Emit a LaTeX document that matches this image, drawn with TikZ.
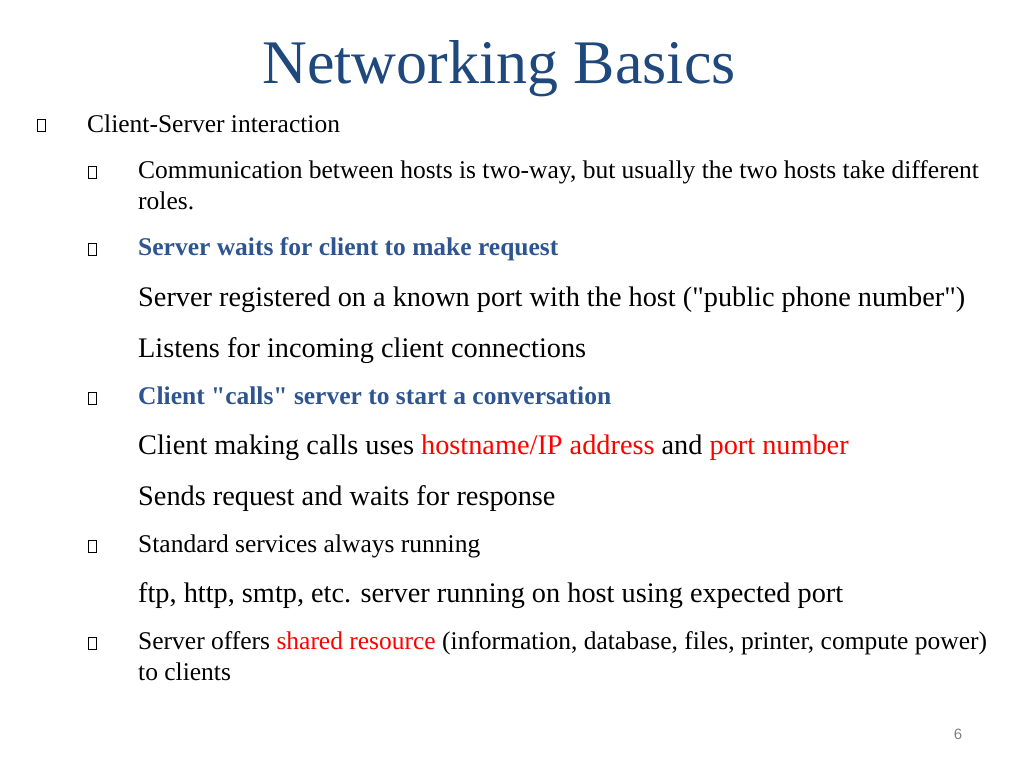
\documentclass[tikz,border=0pt]{standalone}
\usepackage{fontspec}
\setmainfont[Ligatures=TeXOff]{Liberation Serif}
\setsansfont{Liberation Sans}
\definecolor{tblue}{HTML}{1F497D}
\definecolor{hblue}{HTML}{2E5590}
\definecolor{hred}{HTML}{FF0000}
\begin{document}
\begin{tikzpicture}[x=1pt,y=-1pt,
  sm/.style={anchor=base west,inner sep=0pt,font=\fontsize{25.5}{30}\selectfont},
  lg/.style={anchor=base west,inner sep=0pt,font=\fontsize{28.3}{33}\selectfont},
  bx/.style={draw=black,line width=0.7pt}]
\useasboundingbox (0,0) rectangle (1024,768);
\node[anchor=base,inner sep=0pt,text=tblue,font=\fontsize{62}{72}\selectfont] (title) at (499,83) {Networking Basics};
\draw[bx] (37,119) rectangle (45,131);
\node[sm] (t1) at (87,132) {Client-Server interaction};
\foreach \y in {166,243,392,540,637} {\draw[bx] (88,\y) rectangle (96,\y+12);}
\node[sm] (t2) at (138,178) {Communication between hosts is two-way, but usually the two hosts take different};
\node[sm] (t3) at (138,209) {roles.};
\node[sm,text=hblue,font=\fontsize{25.5}{30}\selectfont\bfseries] (t4) at (138,255) {Server waits for client to make request};
\node[lg] (t5) at (138,306) {Server registered on a known port with the host ("public phone number")};
\node[lg] (t6) at (138,357) {Listens for incoming client connections};
\node[sm,text=hblue,font=\fontsize{25.5}{30}\selectfont\bfseries] (t7) at (138,404) {Client "calls" server to start a conversation};
\node[lg] (t8) at (138,454) {Client making calls uses \textcolor{hred}{hostname/IP address} and \textcolor{hred}{port number}};
\node[lg] (t9) at (138,505) {Sends request and waits for response};
\node[sm] (t10) at (138,552) {Standard services always running};
\node[lg] (t11) at (138,602) {ftp, http, smtp, etc. server running on host using expected port};
\node[sm] (t12) at (138,649) {Server offers \textcolor{hred}{shared resource} (information, database, files, printer, compute power)};
\node[sm] (t13) at (138,680) {to clients};
\node[anchor=base,inner sep=0pt,text=gray,font=\fontsize{15}{17}\selectfont\sffamily] (pg) at (958,739) {6};
\end{tikzpicture}
\end{document}
